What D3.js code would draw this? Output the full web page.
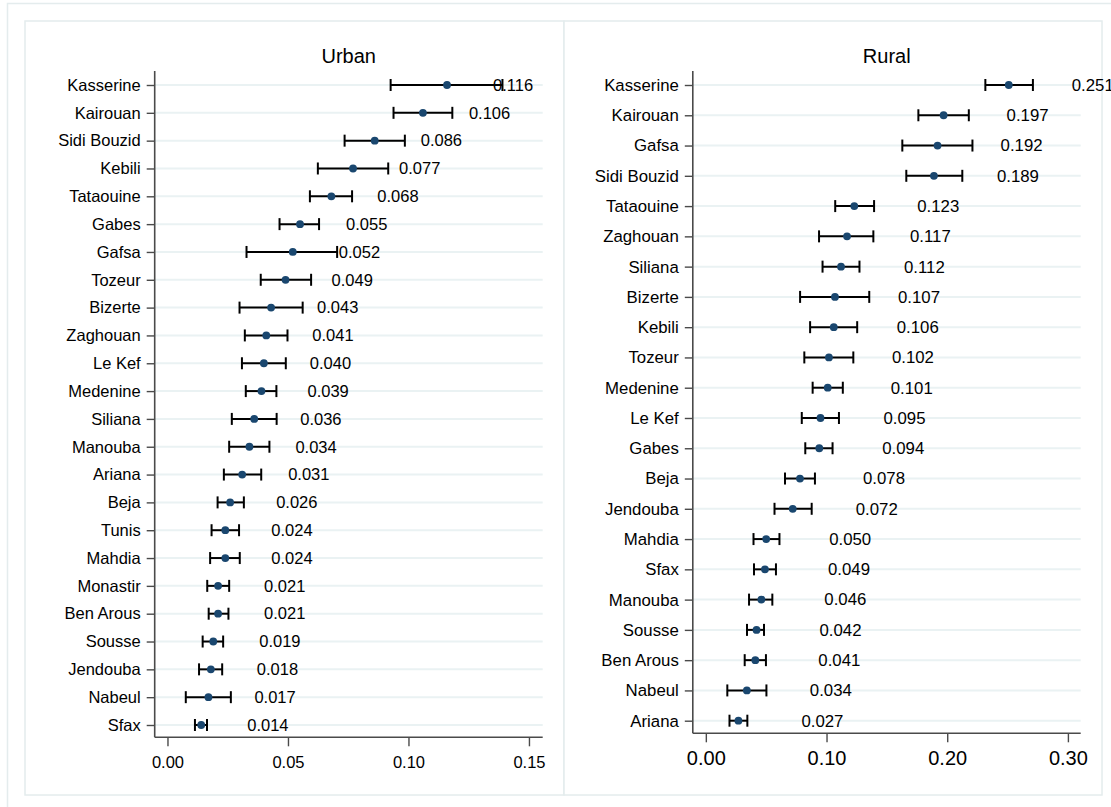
<!DOCTYPE html>
<html>
<head>
<meta charset="utf-8">
<script src="https://cdn.jsdelivr.net/npm/d3@7"></script>
<style>
  html, body { margin: 0; padding: 0; background: #ffffff; }
  svg { display: block; font-family: "Liberation Sans", Arial, sans-serif; }
</style>
</head>
<body>
<svg id="chart" width="1111" height="807"></svg>
<script>
// ---------- Data ----------
const urbanRegions = ["Kasserine","Kairouan","Sidi Bouzid","Kebili","Tataouine","Gabes","Gafsa","Tozeur","Bizerte","Zaghouan","Le Kef","Medenine","Siliana","Manouba","Ariana","Beja","Tunis","Mahdia","Monastir","Ben Arous","Sousse","Jendouba","Nabeul","Sfax"];
const urbanEst = [0.116,0.106,0.086,0.077,0.068,0.055,0.052,0.049,0.043,0.041,0.040,0.039,0.036,0.034,0.031,0.026,0.024,0.024,0.021,0.021,0.019,0.018,0.017,0.014];
const urbanLo  = [0.0926,0.0938,0.0735,0.0624,0.0591,0.0465,0.0328,0.0387,0.0299,0.0321,0.0309,0.0325,0.0267,0.0256,0.0234,0.0208,0.0183,0.0177,0.0165,0.0171,0.0146,0.0131,0.0076,0.0114];
const urbanHi  = [0.1390,0.1182,0.0985,0.0916,0.0766,0.0629,0.0704,0.0596,0.0561,0.0498,0.0491,0.0452,0.0453,0.0423,0.0389,0.0317,0.0297,0.0300,0.0256,0.0253,0.0231,0.0227,0.0263,0.0164];

const ruralRegions = ["Kasserine","Kairouan","Gafsa","Sidi Bouzid","Tataouine","Zaghouan","Siliana","Bizerte","Kebili","Tozeur","Medenine","Le Kef","Gabes","Beja","Jendouba","Mahdia","Sfax","Manouba","Sousse","Ben Arous","Nabeul","Ariana"];
const ruralEst = [0.251,0.197,0.192,0.189,0.123,0.117,0.112,0.107,0.106,0.102,0.101,0.095,0.094,0.078,0.072,0.050,0.049,0.046,0.042,0.041,0.034,0.027];
const ruralLo  = [0.2316,0.1761,0.1628,0.1661,0.1072,0.0938,0.0967,0.0781,0.0864,0.0816,0.0885,0.0795,0.0824,0.0656,0.0569,0.0395,0.0399,0.0358,0.0341,0.0322,0.0178,0.0196];
const ruralHi  = [0.2710,0.2179,0.2209,0.2125,0.1394,0.1388,0.1273,0.1354,0.1254,0.1222,0.1135,0.1103,0.1050,0.0904,0.0877,0.0610,0.0581,0.0551,0.0482,0.0498,0.0502,0.0344];

const urbanTicks = [0, 0.05, 0.10, 0.15];
const ruralTicks = [0, 0.10, 0.20, 0.30];

// ---------- Drawing ----------
const svg = d3.select("#chart");
const frameColor = "#e4eced";
const gridColor = "#eaf2f3";
const axisColor = "#4a4a4a";
const dotColor = "#1a476f";
const fmt = d3.format(".3f");

// outer frame
svg.append("rect").attr("x", 7.5).attr("y", 3.5).attr("width", 1120).attr("height", 820)
  .attr("fill", "none").attr("stroke", frameColor).attr("stroke-width", 1.5);

function panel(cfg) {
  const g = svg.append("g");
  // panel border
  g.append("rect").attr("x", cfg.box[0]).attr("y", cfg.box[1]).attr("width", cfg.box[2]).attr("height", cfg.box[3])
    .attr("fill", "#ffffff").attr("stroke", frameColor).attr("stroke-width", 1.5);

  const x = d3.scaleLinear().domain(cfg.xDomain).range(cfg.xRange);
  const y = d3.scalePoint().domain(cfg.regions).range(cfg.yRange);
  const x0 = cfg.xRange[0], x1 = cfg.xRange[1];

  // title
  g.append("text").attr("x", (x0 + x1) / 2).attr("y", cfg.titleY)
    .attr("text-anchor", "middle").attr("font-size", cfg.titleSize).attr("fill", "#000")
    .text(cfg.title);

  // gridlines
  g.append("g").selectAll("line").data(cfg.regions).join("line")
    .attr("x1", x0).attr("x2", x1)
    .attr("y1", d => y(d)).attr("y2", d => y(d))
    .attr("stroke", gridColor).attr("stroke-width", 2);

  // y axis
  const ya = g.append("g").attr("transform", `translate(${x0},0)`)
    .call(d3.axisLeft(y).tickSize(8).tickPadding(6).tickSizeOuter(0));
  ya.select(".domain").remove();
  ya.append("line").attr("x1", 0).attr("x2", 0).attr("y1", cfg.axisTop).attr("y2", cfg.axisBottom)
    .attr("stroke", axisColor).attr("stroke-width", 1.6);
  ya.selectAll(".tick line").attr("stroke", axisColor).attr("stroke-width", 1.4);
  ya.selectAll(".tick text").attr("font-size", cfg.labelSize).attr("fill", "#000")
    .attr("font-family", '"Liberation Sans", Arial, sans-serif');

  // x axis
  const xa = g.append("g").attr("transform", `translate(0,${cfg.axisBottom})`)
    .call(d3.axisBottom(x).tickValues(cfg.ticks).tickFormat(d3.format(".2f")).tickSize(9).tickPadding(cfg.tickPad).tickSizeOuter(0));
  xa.select(".domain").remove();
  xa.append("line").attr("x1", x0).attr("x2", x1).attr("y1", 0).attr("y2", 0)
    .attr("stroke", axisColor).attr("stroke-width", 1.6);
  xa.selectAll(".tick line").attr("stroke", axisColor).attr("stroke-width", 1.4);
  xa.selectAll(".tick text").attr("font-size", cfg.tickSize).attr("fill", "#000")
    .attr("font-family", '"Liberation Sans", Arial, sans-serif');

  const rows = cfg.regions.map((r, i) => ({ r, est: cfg.est[i], lo: cfg.lo[i], hi: cfg.hi[i] }));
  const cap = 6;
  const eb = g.append("g").attr("stroke", "#000").attr("stroke-width", 2).attr("fill", "none");
  eb.selectAll("line.h").data(rows).join("line").attr("class", "h")
    .attr("x1", d => x(d.lo)).attr("x2", d => x(d.hi))
    .attr("y1", d => y(d.r)).attr("y2", d => y(d.r));
  eb.selectAll("line.l").data(rows).join("line").attr("class", "l")
    .attr("x1", d => x(d.lo)).attr("x2", d => x(d.lo))
    .attr("y1", d => y(d.r) - cap).attr("y2", d => y(d.r) + cap);
  eb.selectAll("line.u").data(rows).join("line").attr("class", "u")
    .attr("x1", d => x(d.hi)).attr("x2", d => x(d.hi))
    .attr("y1", d => y(d.r) - cap).attr("y2", d => y(d.r) + cap);

  g.append("g").selectAll("circle").data(rows).join("circle")
    .attr("cx", d => x(d.est)).attr("cy", d => y(d.r)).attr("r", 3.9)
    .attr("fill", dotColor);

  g.append("g").selectAll("text").data(rows).join("text")
    .attr("x", d => x(d.est) + cfg.labelOffset).attr("y", d => y(d.r))
    .attr("dy", "0.35em").attr("font-size", cfg.valueSize).attr("fill", "#000")
    .text(d => fmt(d.est));
}

panel({
  title: "Urban", titleY: 63, titleSize: 20,
  box: [25, 21, 539, 774],
  regions: urbanRegions, est: urbanEst, lo: urbanLo, hi: urbanHi, ticks: urbanTicks,
  xDomain: [-0.0053, 0.1557], xRange: [154.7, 542.7],
  yRange: [85, 725], axisTop: 71, axisBottom: 737.3,
  labelSize: 16.5, valueSize: 16.5, tickSize: 16.5, tickPad: 10, labelOffset: 46
});

panel({
  title: "Rural", titleY: 63, titleSize: 20,
  box: [564, 21, 538, 774],
  regions: ruralRegions, est: ruralEst, lo: ruralLo, hi: ruralHi, ticks: ruralTicks,
  xDomain: [-0.0108, 0.3106], xRange: [692.8, 1080.7],
  yRange: [85, 720.7], axisTop: 71, axisBottom: 733.3,
  labelSize: 16.8, valueSize: 16.8, tickSize: 20, tickPad: 9, labelOffset: 63
});
</script>
</body>
</html>
